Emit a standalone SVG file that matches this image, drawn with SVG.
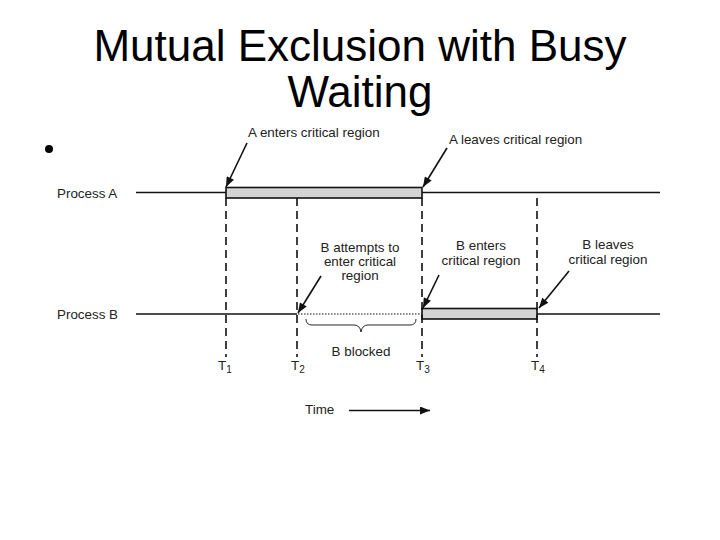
<svg xmlns="http://www.w3.org/2000/svg" width="720" height="540" viewBox="0 0 720 540">
<style>
.title{font-family:"Liberation Sans",Arial,sans-serif;font-size:44px;fill:#000;text-anchor:middle}
.lbl{font-family:"Liberation Sans",Arial,sans-serif;font-size:13.4px;fill:#222}
.mid{text-anchor:middle}
.line{stroke:#111;stroke-width:1.6;fill:none}
.bar{fill:#d4d4d4;stroke:#111;stroke-width:1.6}
.dash{stroke:#111;stroke-width:1.6;stroke-dasharray:8 5;fill:none}
.dot{stroke:#111;stroke-width:1.2;stroke-dasharray:1.5 1.5;fill:none}
.arr{stroke:#111;stroke-width:1.6;fill:none;marker-end:url(#ah)}
.sub{font-size:10px}
</style>
<defs>
<marker id="ah" viewBox="0 0 10 8" refX="10" refY="4" markerWidth="12" markerHeight="8" markerUnits="userSpaceOnUse" orient="auto">
<path d="M0,0 L10,4 L0,8 Z" fill="#111"/>
</marker>
</defs>
<rect width="720" height="540" fill="#fff"/>
<g id="title">
<text class="title" x="360" y="61">Mutual Exclusion with Busy</text>
<text class="title" x="360" y="107">Waiting</text>
</g>
<g id="bullet"><circle cx="49" cy="149" r="4" fill="#000"/></g>
<g id="processA">
<text class="lbl" x="57" y="198">Process A</text>
<line class="line" x1="136" y1="192.5" x2="226" y2="192.5"/>
<rect class="bar" x="226" y="187.5" width="196" height="10.5"/>
<line class="line" x1="422" y1="192.5" x2="660" y2="192.5"/>
</g>
<g id="processB">
<text class="lbl" x="57" y="319">Process B</text>
<line class="line" x1="136" y1="314" x2="297" y2="314"/>
<line class="dot" x1="298" y1="314" x2="422" y2="314"/>
<rect class="bar" x="422" y="308.5" width="115" height="10.5"/>
<line class="line" x1="537" y1="314" x2="660" y2="314"/>
</g>
<g id="timelines">
<line class="dash" x1="226" y1="198" x2="226" y2="357"/>
<line class="dash" x1="297" y1="198" x2="297" y2="357"/>
<line class="dash" x1="422" y1="198" x2="422" y2="357"/>
<line class="dash" x1="537" y1="198" x2="537" y2="357"/>
<text class="lbl" x="218" y="370">T<tspan class="sub" dy="3">1</tspan></text>
<text class="lbl" x="291" y="370">T<tspan class="sub" dy="3">2</tspan></text>
<text class="lbl" x="416" y="370">T<tspan class="sub" dy="3">3</tspan></text>
<text class="lbl" x="531" y="370">T<tspan class="sub" dy="3">4</tspan></text>
</g>
<g id="labels">
<text class="lbl" x="248" y="137">A enters critical region</text>
<text class="lbl" x="449" y="144">A leaves critical region</text>
<text class="lbl mid" x="360" y="252">B attempts to</text>
<text class="lbl mid" x="360" y="266">enter critical</text>
<text class="lbl mid" x="360" y="280">region</text>
<text class="lbl mid" x="481" y="250">B enters</text>
<text class="lbl mid" x="481" y="265">critical region</text>
<text class="lbl mid" x="608" y="249">B leaves</text>
<text class="lbl mid" x="608" y="264">critical region</text>
<text class="lbl mid" x="361" y="356">B blocked</text>
<text class="lbl" x="305" y="414">Time</text>
</g>
<g id="brace">
<path d="M306,319 Q306,325 312,325 L354,325 Q360,325 361,332 Q362,325 368,325 L410,325 Q416,325 416,319" fill="none" stroke="#111" stroke-width="0.9"/>
</g>
<g id="connectors">
<line class="arr" x1="247" y1="143" x2="226" y2="187"/>
<line class="arr" x1="447" y1="148" x2="423" y2="187"/>
<line class="arr" x1="321" y1="276" x2="298" y2="313"/>
<line class="arr" x1="439" y1="275" x2="423" y2="308"/>
<line class="arr" x1="569" y1="271" x2="539" y2="308"/>
<line class="arr" x1="349" y1="410.5" x2="430" y2="410.5"/>
</g>
</svg>
